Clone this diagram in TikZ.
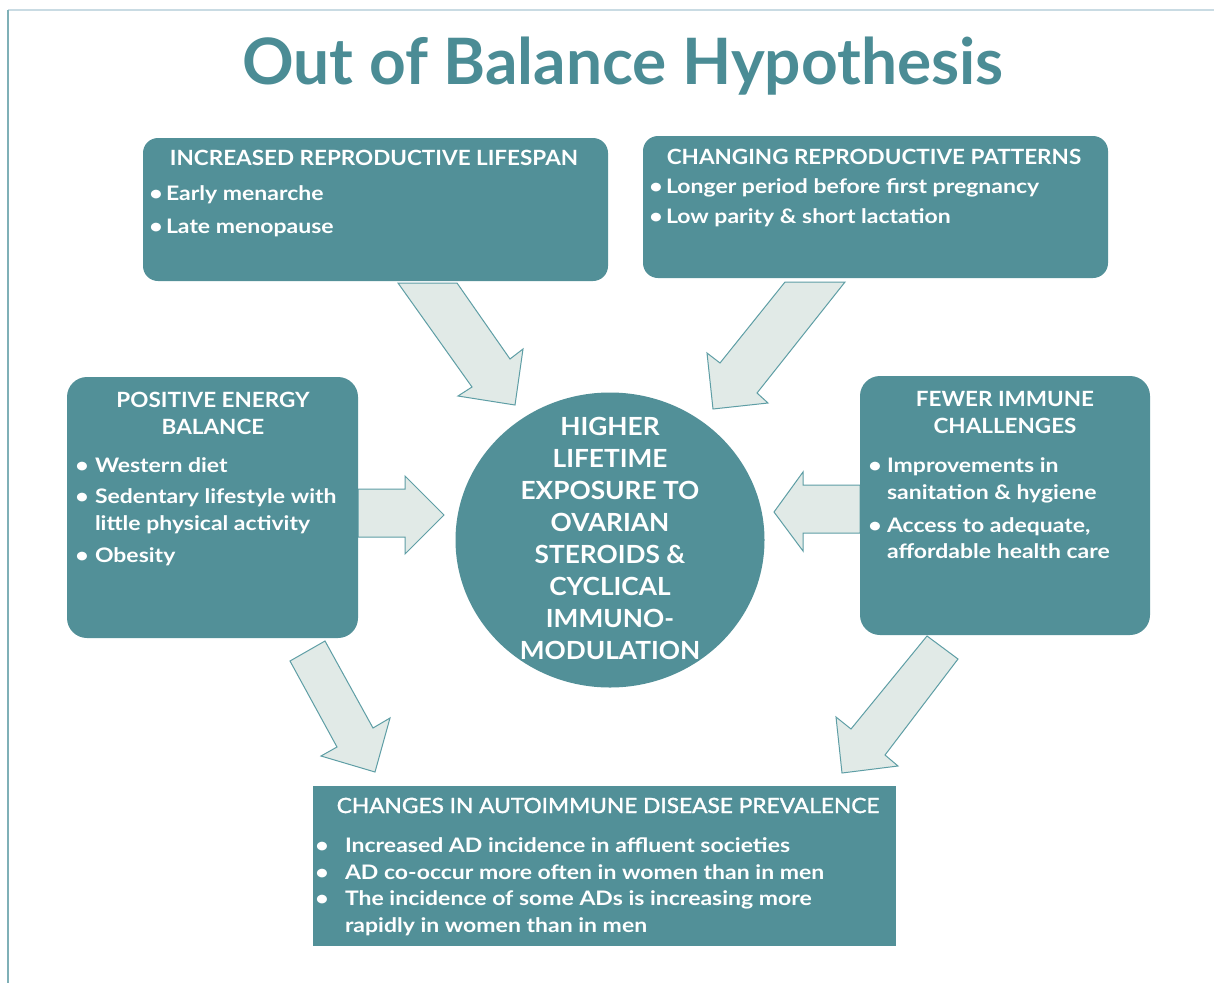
\documentclass[tikz,border=0pt]{standalone}
\usepackage{fontspec}
\setmainfont{Lato}
\newfontfamily\bodyfont[FakeStretch=1.15]{Lato}
\newfontfamily\headfont[FakeStretch=1.07]{Lato}
\newfontfamily\circfont[FakeStretch=1.05]{Lato}
\newfontfamily\medfont[FakeStretch=1.08,FakeBold=1.6]{Lato}
\usetikzlibrary{shapes.geometric}
\definecolor{teal1}{HTML}{529098}
\definecolor{titlecol}{HTML}{4B8C95}
\definecolor{arrfill}{HTML}{E1EAE7}
\definecolor{arrline}{HTML}{5E9EA5}
\definecolor{topline}{HTML}{C9DBE3}
\definecolor{leftline}{HTML}{7FB0B7}
\newcommand{\mytxt}[5][txt]{\node[#1,anchor=base west] (#2) at (#3,#4) {#5};}
\newcommand{\mytitle}[5][boxtitle]{\node[#1,anchor=base] (#2) at (#3,#4) {#5};}
\newcommand{\mybul}[6][txt]{\node[#1,anchor=base] (#2b) at (#3,#5) {•};\node[#1,anchor=base west] (#2) at (#4,#5) {#6};}
\begin{document}
\begin{tikzpicture}[x=1pt,y=-1pt,
  every node/.style={inner sep=0pt,outer sep=0pt},
  tealbox/.style={fill=teal1,draw=none},
  boxtitle/.style={text=white,font=\headfont\fontsize{21}{25}\selectfont\bfseries},
  txt/.style={text=white,font=\bodyfont\fontsize{20}{24}\selectfont\bfseries},
  bottitle/.style={text=white,font=\medfont\fontsize{21}{25}\selectfont},
  circtxt/.style={text=white,font=\circfont\fontsize{25}{30}\selectfont\bfseries},
  blockarrow/.style={fill=arrfill,draw=arrline,line width=1pt,line join=miter}]
\useasboundingbox (0,0) rectangle (1214,983);
\fill[white] (0,0) rectangle (1214,983);
% frame
\draw[topline,line width=1.2pt] (8,10) -- (1214,10);
\draw[leftline,line width=1.2pt] (8,10) -- (8,983);
% title
\node[text=titlecol,font=\fontsize{64}{70}\selectfont\bfseries,anchor=base] (title) at (623,84) {Out of Balance Hypothesis};
% arrows
\draw[blockarrow] (398,283) -- (457,283) -- (510,359) -- (523,349) -- (515,405) -- (458,396) -- (472,387) -- cycle;
\draw[blockarrow] (785,282) -- (845,282) -- (757,393) -- (768,403) -- (713,409) -- (707,353) -- (720,363) -- cycle;
\draw[blockarrow] (358,489) -- (405,489) -- (405,476) -- (444,515) -- (405,554) -- (405,537) -- (358,537) -- cycle;
\draw[blockarrow] (860,485) -- (803,485) -- (803,472) -- (774,512) -- (803,551) -- (803,533) -- (860,533) -- cycle;
\draw[blockarrow] (290,661) -- (325,641) -- (373,728) -- (390,718) -- (375,772) -- (321,756) -- (337,747) -- cycle;
\draw[blockarrow] (927,636) -- (958,659) -- (885,755) -- (898,766) -- (842,773) -- (836,717) -- (851,729) -- cycle;
% boxes
\fill[tealbox,rounded corners=15pt] (143,138) rectangle (608,281);
\fill[tealbox,rounded corners=15pt] (643,136) rectangle (1108,278);
\fill[tealbox,rounded corners=20pt] (67,377) rectangle (358,638);
\fill[tealbox,rounded corners=20pt] (860,376) rectangle (1150,635);
\fill[tealbox] (313,786) rectangle (896,946);
\node[tealbox,ellipse,minimum width=309pt,minimum height=295pt] (hub) at (610,540) {};
% top-left box text
\mytitle{tlt}{374}{165}{INCREASED REPRODUCTIVE LIFESPAN}
\mybul{tla}{156}{166}{200}{Early menarche}
\mybul{tlb}{156}{166}{233}{Late menopause}
% top-right box text
\mytitle{trt}{874}{164}{CHANGING REPRODUCTIVE PATTERNS}
\mybul{tra}{656}{666}{193}{Longer period before first pregnancy}
\mybul{trb}{656}{666}{223}{Low parity \& short lactation}
% left box
\mytitle{lt1}{213}{407}{POSITIVE ENERGY}
\mytitle{lt2}{213}{434}{BALANCE}
\mybul{la}{82}{95}{472}{Western diet}
\mybul{lb}{82}{95}{503}{Sedentary lifestyle with}
\mytxt{lb2}{95}{530}{little physical activity}
\mybul{lc}{82}{95}{562}{Obesity}
% right box
\mytitle{rt1}{1005}{406}{FEWER IMMUNE}
\mytitle{rt2}{1005}{433}{CHALLENGES}
\mybul{ra}{875}{887}{472}{Improvements in}
\mytxt{ra2}{887}{499}{sanitation \& hygiene}
\mybul{rb}{875}{887}{532}{Access to adequate,}
\mytxt{rb2}{887}{558}{affordable health care}
% circle text
\mytitle[circtxt]{c1}{610}{435}{HIGHER}
\mytitle[circtxt]{c2}{610}{467}{LIFETIME}
\mytitle[circtxt]{c3}{610}{499}{EXPOSURE TO}
\mytitle[circtxt]{c4}{610}{531}{OVARIAN}
\mytitle[circtxt]{c5}{610}{563}{STEROIDS \&}
\mytitle[circtxt]{c6}{610}{595}{CYCLICAL}
\mytitle[circtxt]{c7}{610}{627}{IMMUNO-}
\mytitle[circtxt]{c8}{610}{659}{MODULATION}
% bottom box
\mytitle[bottitle]{bt}{608}{813}{CHANGES IN AUTOIMMUNE DISEASE PREVALENCE}
\mybul{ba}{322}{345}{852}{Increased AD incidence in affluent societies}
\mybul{bb}{322}{345}{879}{AD co-occur more often in women than in men}
\mybul{bc}{322}{345}{905}{The incidence of some ADs is increasing more}
\mytxt{bc2}{345}{932}{rapidly in women than in men}
\end{tikzpicture}
\end{document}
